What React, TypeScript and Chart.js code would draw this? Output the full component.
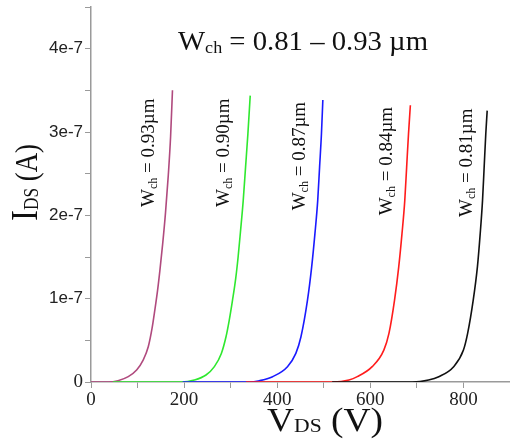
import React, { useEffect, useRef } from 'react';
import { Chart, registerables } from 'chart.js';

Chart.register(...registerables);

// ---- Data (V_DS in volts, I_DS in amperes) ----
const vds093 = [0, 37, 58, 80, 98, 112, 123, 131, 137, 143, 148, 154, 160, 166, 171, 175];
const ids093 = [0, 0, 0.016e-7, 0.064e-7, 0.144e-7, 0.263e-7, 0.423e-7, 0.64e-7, 0.86e-7, 1.1e-7, 1.34e-7, 1.66e-7, 2.03e-7, 2.48e-7, 2.95e-7, 3.5e-7];

const vds090 = [47, 194, 222, 247, 265, 280, 290, 297, 304, 311, 316, 321, 327, 332, 337, 342];
const ids090 = [0, 0, 0.024e-7, 0.084e-7, 0.184e-7, 0.343e-7, 0.543e-7, 0.743e-7, 0.982e-7, 1.25e-7, 1.5e-7, 1.8e-7, 2.18e-7, 2.579e-7, 2.978e-7, 3.437e-7];

const vds087 = [197, 340, 362, 390, 422, 440, 451, 465, 474, 481, 487, 491, 495, 498];
const ids087 = [0, 0, 0.016e-7, 0.064e-7, 0.184e-7, 0.343e-7, 0.543e-7, 0.982e-7, 1.381e-7, 1.78e-7, 2.18e-7, 2.579e-7, 2.978e-7, 3.385e-7];

const vds084 = [333, 520, 554, 572, 604, 629, 640, 652, 661, 668, 674, 678, 682, 686];
const ids084 = [0, 0, 0.024e-7, 0.064e-7, 0.184e-7, 0.383e-7, 0.583e-7, 0.982e-7, 1.381e-7, 1.78e-7, 2.18e-7, 2.579e-7, 2.978e-7, 3.321e-7];

const vds081 = [518, 690, 725, 747, 779, 800, 809, 821, 830, 836, 841, 844.5, 848, 851];
const ids081 = [0, 0, 0.024e-7, 0.064e-7, 0.184e-7, 0.383e-7, 0.583e-7, 0.982e-7, 1.381e-7, 1.78e-7, 2.18e-7, 2.579e-7, 2.978e-7, 3.257e-7];

const widthLabels = ['0.93', '0.90', '0.87', '0.84', '0.81'];
const seriesColors = ['#b04a7e', '#2fe82f', '#1a1aff', '#ff1c1c', '#111111'];
// label anchor (bottom of the rotated text) in data coordinates
const labelVds = [121, 283, 445, 632, 804];
const labelIds = [2.1e-7, 2.1e-7, 2.06e-7, 2.0e-7, 1.98e-7];

const titleText = ' = 0.81 – 0.93 µm';

const SERIF = '"Liberation Serif", "Times New Roman", serif';
const SANS = '"Liberation Sans", Arial, sans-serif';

type Part = { t: string; size: number; dy?: number };

function partsWidth(ctx: CanvasRenderingContext2D, parts: Part[]) {
  let w = 0;
  for (const p of parts) {
    ctx.font = `${p.size}px ${SERIF}`;
    w += ctx.measureText(p.t).width;
  }
  return w;
}

function drawParts(ctx: CanvasRenderingContext2D, parts: Part[], x: number, y: number) {
  let cx = x;
  ctx.textBaseline = 'alphabetic';
  ctx.textAlign = 'left';
  for (const p of parts) {
    ctx.font = `${p.size}px ${SERIF}`;
    ctx.fillText(p.t, cx, y + (p.dy || 0));
    cx += ctx.measureText(p.t).width;
  }
}

const textPlugin = {
  id: 'textPlugin',
  afterDraw(chart: any) {
    const { ctx, scales } = chart;
    const xs = scales.x;
    const ys = scales.y;
    ctx.save();
    ctx.fillStyle = '#111';

    // Title
    const tParts: Part[] = [
      { t: 'W', size: 27 },
      { t: 'ch', size: 17, dy: 3 },
      { t: titleText, size: 27 },
    ];
    const tw = partsWidth(ctx, tParts);
    ctx.save();
    ctx.translate(178, 50);
    ctx.scale(250 / tw, 1);
    drawParts(ctx, tParts, 0, 0);
    ctx.restore();

    // Rotated curve labels
    for (let i = 0; i < widthLabels.length; i++) {
      const px = xs.getPixelForValue(labelVds[i]);
      const py = ys.getPixelForValue(labelIds[i]);
      const parts: Part[] = [
        { t: 'W', size: 19 },
        { t: 'ch', size: 12, dy: 3 },
        { t: ` = ${widthLabels[i]}µm`, size: 19 },
      ];
      ctx.save();
      ctx.translate(px, py);
      ctx.rotate(-Math.PI / 2);
      drawParts(ctx, parts, 0, 6.5);
      ctx.restore();
    }

    // X axis title
    const xParts: Part[] = [
      { t: 'V', size: 33 },
      { t: 'DS', size: 19, dy: 1 },
      { t: ' (V)', size: 33 },
    ];
    const xw = partsWidth(ctx, xParts);
    ctx.save();
    ctx.translate(267, 431);
    ctx.scale(116 / xw, 1);
    drawParts(ctx, xParts, 0, 0);
    ctx.restore();

    // Y axis title
    const yParts: Part[] = [
      { t: 'I', size: 38 },
      { t: 'DS', size: 20, dy: 1 },
      { t: ' (A)', size: 31 },
    ];
    const yw = partsWidth(ctx, yParts);
    ctx.save();
    ctx.translate(37, 221);
    ctx.rotate(-Math.PI / 2);
    ctx.scale(77 / yw, 1);
    drawParts(ctx, yParts, 0, 0);
    ctx.restore();

    ctx.restore();
  },
};

function makeSeries(xv: number[], yv: number[]) {
  return xv.map((v, i) => ({ x: v, y: yv[i] }));
}

export default function App() {
  const canvasRef = useRef<HTMLCanvasElement | null>(null);

  useEffect(() => {
    const canvas = canvasRef.current;
    if (!canvas) return;
    const allX = [vds093, vds090, vds087, vds084, vds081];
    const allY = [ids093, ids090, ids087, ids084, ids081];
    const datasets = allX.map((xv, i) => ({
      label: `Wch = ${widthLabels[i]}µm`,
      data: makeSeries(xv, allY[i]),
      borderColor: seriesColors[i],
      backgroundColor: seriesColors[i],
      borderWidth: 1.6,
      pointRadius: 0,
      fill: false,
      cubicInterpolationMode: 'monotone' as const,
      order: allX.length - 1 - i,
    }));

    const axisGrid = {
      drawOnChartArea: false,
      drawTicks: true,
      tickLength: 6,
      color: '#9a9a9a',
      lineWidth: 1,
    };
    const axisBorder = { display: true, color: '#9a9a9a', width: 1.5 };

    const chart = new Chart(canvas, {
      type: 'line',
      data: { datasets },
      plugins: [textPlugin],
      options: {
        animation: false,
        responsive: false,
        maintainAspectRatio: false,
        layout: { padding: { left: 0, right: 0, top: 7, bottom: 0 } },
        plugins: {
          legend: { display: false },
          tooltip: { enabled: false },
          title: { display: false },
        },
        scales: {
          x: {
            type: 'linear',
            min: 0,
            max: 900,
            afterFit: (s: any) => {
              s.height = 59;
              s.paddingLeft = 0;
              s.paddingRight = 0;
            },
            ticks: {
              stepSize: 100,
              autoSkip: false,
              maxRotation: 0,
              includeBounds: true,
              padding: 1,
              color: '#222',
              font: { family: SERIF, size: 19 },
              callback: (v: any) => {
                const n = Math.round(Number(v));
                return n % 200 === 0 ? String(n) : '';
              },
            },
            grid: axisGrid,
            border: axisBorder,
          },
          y: {
            type: 'linear',
            min: 0,
            max: 4.5e-7,
            afterFit: (s: any) => {
              s.width = 91;
              s.paddingTop = 0;
              s.paddingBottom = 0;
            },
            ticks: {
              stepSize: 0.5e-7,
              autoSkip: false,
              padding: 2,
              color: '#222',
              font: (c: any) =>
                c.tick && Math.abs(c.tick.value) < 1e-12
                  ? { family: SERIF, size: 19 }
                  : { family: SANS, size: 17 },
              callback: (v: any) => {
                const n = Math.round(Number(v) * 1e8);
                if (n % 10 !== 0) return '';
                return n === 0 ? '0' : `${n / 10}e-7`;
              },
            },
            grid: axisGrid,
            border: axisBorder,
          },
        },
      } as any,
    });
    return () => chart.destroy();
  }, []);

  return (
    <div style={{ position: 'fixed', left: 0, top: 0, width: 510, height: 441, background: '#fff' }}>
      <canvas ref={canvasRef} width={510} height={441} style={{ width: 510, height: 441, display: 'block' }} />
    </div>
  );
}
